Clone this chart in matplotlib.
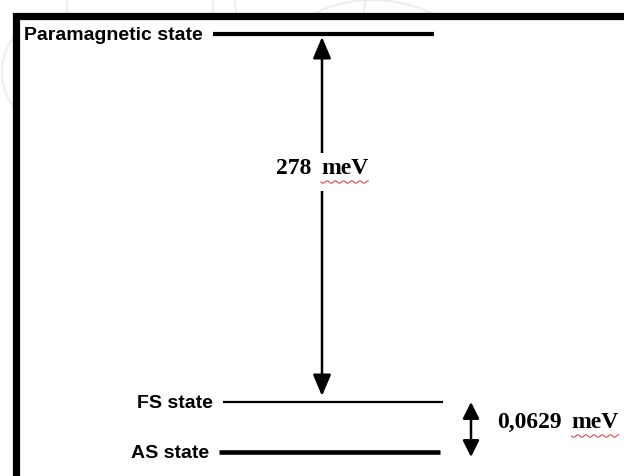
import numpy as np
import matplotlib
matplotlib.use("Agg")
import matplotlib.pyplot as plt
from matplotlib.patches import Rectangle, Circle

# ---- data (schematic energy-level diagram) ----
level_names = ["Paramagnetic state", "FS state", "AS state"]
level_y = [34, 402, 452]            # schematic vertical positions (diagram units, top = 0)
level_x0 = [213, 223, 219]
level_x1 = [434, 443, 440]
level_lw = [3.0, 1.6, 3.3]
gap_values = ["278", "0,0629"]
gap_unit = "meV"

fig = plt.figure(figsize=(6.24, 4.76), dpi=100)
ax = fig.add_axes([0, 0, 1, 1])
ax.set_xlim(0, 624)
ax.set_ylim(476, 0)
ax.axis("off")

# faint watermark circles (visible only in the margins)
for (cx, cy, r) in [(60, 72, 58), (373, 137, 137), (140, 10, 73), (300, 0, 65)]:
    ax.add_patch(Circle((cx, cy), r, fill=False, ec="#ebebeb", lw=1.2, zorder=0))

# frame (white inside, thick black border running off the image)
ax.add_patch(Rectangle((15.5, 15.5), 700, 600, fc="white", ec="black", lw=5.2, zorder=1))

# energy levels
for name, y, x0, x1, lw in zip(level_names, level_y, level_x0, level_x1, level_lw):
    ax.plot([x0, x1], [y, y], color="black", lw=lw, solid_capstyle="butt", zorder=3)
    ax.text(x0 - 10, y + 1, name, ha="right", va="center", fontsize=14,
            fontweight="bold", family="Liberation Sans", zorder=4)

# big arrow: paramagnetic -> FS
xa = 322
ax.annotate("", xy=(xa, level_y[1] - 6), xytext=(xa, level_y[0] + 3),
            arrowprops=dict(arrowstyle="<|-|>,head_length=1.3,head_width=0.55",
                            color="black", lw=1.8, shrinkA=0, shrinkB=0), zorder=3)

# small double arrow: FS <-> AS
xb = 471
ax.annotate("", xy=(xb, level_y[2] + 5), xytext=(xb, level_y[1]),
            arrowprops=dict(arrowstyle="<|-|>,head_length=1.0,head_width=0.5",
                            color="black", lw=1.8, shrinkA=0, shrinkB=0), zorder=3)

fig.canvas.draw()
renderer = fig.canvas.get_renderer()
inv = ax.transData.inverted()

def gap_label(xc, yc, value, ha_center=True):
    tf = dict(fontsize=17, fontweight="bold", family="Liberation Serif", zorder=5, va="center")
    t1 = ax.text(0, yc, value, ha="left", **tf)
    t2 = ax.text(0, yc, gap_unit, ha="left", **tf)
    fig.canvas.draw()
    b1 = t1.get_window_extent(renderer)
    b2 = t2.get_window_extent(renderer)
    w1 = inv.transform((b1.x1, 0))[0] - inv.transform((b1.x0, 0))[0]
    w2 = inv.transform((b2.x1, 0))[0] - inv.transform((b2.x0, 0))[0]
    sp = 10
    total = w1 + sp + w2
    x0 = xc - total / 2 if ha_center else xc
    t1.set_x(x0)
    t2.set_x(x0 + w1 + sp)
    # white patch to break the arrow
    ax.add_patch(Rectangle((x0 - 4, yc - 15), total + 8, 38, fc="white", ec="none", zorder=4))
    # spell-check squiggle under unit
    xs = np.linspace(x0 + w1 + sp, x0 + total, 80)
    ys = yc + 14 + 1.2 * np.sin((xs - xs[0]) / 1.3)
    ax.plot(xs, ys, color="#e03030", lw=0.7, zorder=6)

gap_label(xa, 168, gap_values[0])
gap_label(497, 422, gap_values[1], ha_center=False)

fig.savefig("out.png", dpi=100, facecolor="white")
